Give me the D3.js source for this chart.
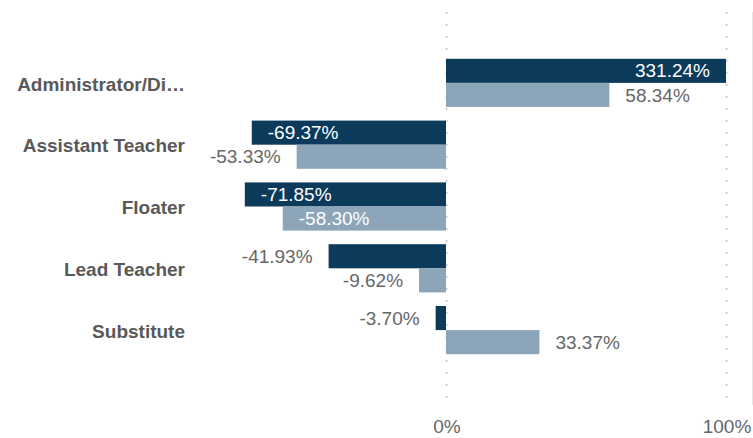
<!DOCTYPE html>
<html>
<head>
<meta charset="utf-8">
<script src="https://cdn.jsdelivr.net/npm/d3@7"></script>
<style>
  html, body { margin: 0; padding: 0; background: #fff; }
  svg { display: block; font-family: "Liberation Sans", Arial, sans-serif; }
</style>
</head>
<body>
<svg id="chart" width="753" height="438"></svg>
<script>
// Percentage change by role, two series per role
const categories = ["Administrator/Di…", "Assistant Teacher", "Floater", "Lead Teacher", "Substitute"];
const seriesNames = ["current", "previous"];
const currentValues = [331.24, -69.37, -71.85, -41.93, -3.70];
const previousValues = [58.34, -53.33, -58.30, -9.62, 33.37];
const tickValues = [0, 100];
const tickLabels = ["0%", "100%"];

const colors = { current: "#0b3a5b", previous: "#8ca5b9" };

const svg = d3.select("#chart");

const x = d3.scaleLinear().domain([0, 100]).range([446, 726]);
const xMax = d3.max(x.domain());

const y = d3.scaleBand()
  .domain(categories)
  .range([52, 361])
  .paddingInner(0.22)
  .paddingOuter(0.11);

const ySub = d3.scaleBand()
  .domain(seriesNames)
  .range([0, y.bandwidth()]);

const rows = categories.flatMap((c, i) => [
  { cat: c, series: "current", value: currentValues[i] },
  { cat: c, series: "previous", value: previousValues[i] }
]);

// percent format with a plain hyphen for negatives
const pct = d3.formatLocale({
  decimal: ".", thousands: ",", grouping: [3], currency: ["", ""], minus: "-"
}).format(".2f");

// dotted reference lines at the ticks
svg.append("g").selectAll("line")
  .data(tickValues)
  .join("line")
  .attr("x1", d => x(d) + 0.5)
  .attr("x2", d => x(d) + 0.5)
  .attr("y1", 12)
  .attr("y2", 408)
  .attr("stroke", "#cfcfcf")
  .attr("stroke-width", 2)
  .attr("stroke-dasharray", "2,10");

// faint frame line at the right edge
svg.append("line")
  .attr("x1", 752.5).attr("x2", 752.5)
  .attr("y1", 12).attr("y2", 405)
  .attr("stroke", "#e6e6e6").attr("stroke-width", 1);

const barX = d => Math.min(d.value, xMax);

// bars
svg.append("g").selectAll("rect")
  .data(rows)
  .join("rect")
  .attr("x", d => Math.min(x(0), x(barX(d))))
  .attr("width", d => Math.abs(x(barX(d)) - x(0)))
  .attr("y", d => y(d.cat) + ySub(d.series))
  .attr("height", ySub.bandwidth())
  .attr("fill", d => colors[d.series]);

// value labels: inside the bar end when the bar is long, otherwise just past it
const pad = 16;
const inside = d => d.value > xMax || d.value < -55;
svg.append("g").selectAll("text")
  .data(rows)
  .join("text")
  .attr("x", d => {
    const end = x(barX(d));
    if (d.value >= 0) return inside(d) ? end - pad : end + pad;
    return inside(d) ? end + pad : end - pad;
  })
  .attr("y", d => y(d.cat) + ySub(d.series) + ySub.bandwidth() / 2)
  .attr("dy", "0.35em")
  .attr("text-anchor", d => (d.value >= 0) === inside(d) ? "end" : "start")
  .attr("font-size", 19)
  .attr("fill", d => inside(d) ? "#ffffff" : "#666666")
  .text(d => pct(d.value) + "%");

// category labels
svg.append("g").selectAll("text")
  .data(categories)
  .join("text")
  .attr("x", 185)
  .attr("y", d => y(d) + y.bandwidth() / 2 + 1)
  .attr("dy", "0.35em")
  .attr("text-anchor", "end")
  .attr("font-size", 19)
  .attr("font-weight", "bold")
  .attr("fill", "#595959")
  .text(d => d);

// axis tick labels
svg.append("g").selectAll("text")
  .data(tickValues)
  .join("text")
  .attr("x", d => x(d) + 1)
  .attr("y", 433)
  .attr("text-anchor", "middle")
  .attr("font-size", 19)
  .attr("fill", "#666666")
  .text((d, i) => tickLabels[i]);
</script>
</body>
</html>
